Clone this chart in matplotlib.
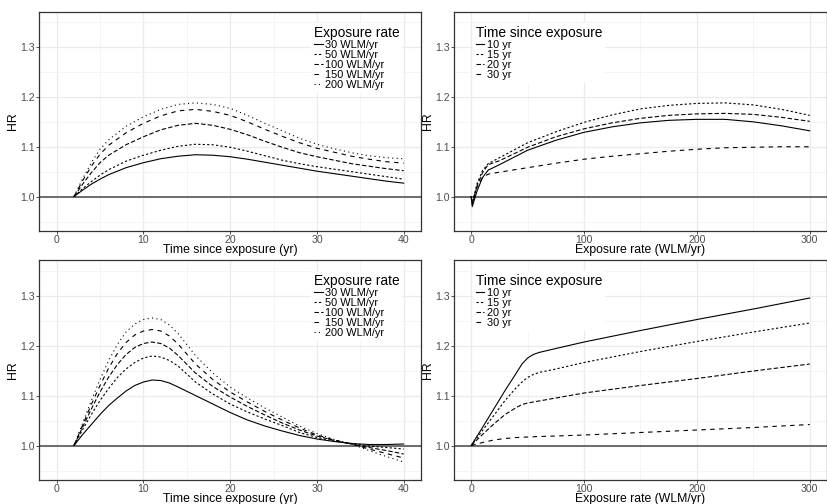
import numpy as np
import matplotlib
matplotlib.use("Agg")
import matplotlib.pyplot as plt
from matplotlib.ticker import MultipleLocator, FormatStrFormatter

plt.rcParams['font.family'] = ['Liberation Sans', 'DejaVu Sans']

# ---- data ----
rate_labels = ['30 WLM/yr', '50 WLM/yr', '100 WLM/yr', '150 WLM/yr', '200 WLM/yr']
time_labels = ['10 yr', '15 yr', '20 yr', '30 yr']

# top left: HR by time since exposure
tl_time = [2, 3, 4, 5, 6, 8, 10, 12, 14, 16, 18, 20, 22, 24, 26, 28, 30, 32, 34, 36, 38, 40]
tl_30 = [1.000, 1.013, 1.025, 1.035, 1.044, 1.058, 1.068, 1.076, 1.081, 1.084, 1.083,
         1.080, 1.075, 1.069, 1.063, 1.057, 1.051, 1.046, 1.041, 1.036, 1.031, 1.027]
tl_50 = [1.000, 1.016, 1.030, 1.043, 1.054, 1.071, 1.083, 1.093, 1.101, 1.105, 1.104,
         1.099, 1.091, 1.082, 1.073, 1.066, 1.060, 1.055, 1.050, 1.045, 1.040, 1.035]
tl_100 = [1.000, 1.025, 1.048, 1.068, 1.083, 1.104, 1.120, 1.134, 1.143, 1.147, 1.143,
          1.135, 1.124, 1.111, 1.099, 1.088, 1.080, 1.073, 1.066, 1.061, 1.056, 1.052]
tl_150 = [1.000, 1.032, 1.061, 1.085, 1.103, 1.128, 1.147, 1.162, 1.172, 1.175, 1.171,
          1.163, 1.150, 1.135, 1.121, 1.108, 1.097, 1.089, 1.081, 1.075, 1.070, 1.067]
tl_200 = [1.000, 1.036, 1.068, 1.095, 1.114, 1.141, 1.160, 1.175, 1.185, 1.188, 1.185,
          1.177, 1.163, 1.147, 1.132, 1.117, 1.105, 1.096, 1.088, 1.082, 1.078, 1.076]

# top right: HR by exposure rate
tr_rate = [0, 1, 5, 10, 15, 25, 50, 75, 100, 125, 150, 175, 200, 225, 250, 275, 300]
tr_10 = [1.000, 0.980, 1.010, 1.038, 1.053, 1.064, 1.093, 1.113, 1.129, 1.140, 1.148,
         1.153, 1.155, 1.155, 1.150, 1.142, 1.132]
tr_15 = [1.000, 0.986, 1.025, 1.052, 1.066, 1.078, 1.108, 1.130, 1.149, 1.164, 1.176,
         1.183, 1.187, 1.188, 1.184, 1.175, 1.163]
tr_20 = [1.000, 0.983, 1.020, 1.048, 1.064, 1.072, 1.099, 1.120, 1.136, 1.148, 1.157,
         1.163, 1.166, 1.167, 1.165, 1.159, 1.151]
tr_30 = [1.000, 0.990, 1.018, 1.038, 1.045, 1.049, 1.058, 1.067, 1.075, 1.081, 1.086,
         1.091, 1.095, 1.098, 1.099, 1.100, 1.100]

# bottom left: HR by time since exposure
bl_time = [2, 3, 4, 5, 6, 7, 8, 9, 10, 11, 12, 13, 14, 16, 18, 20, 22, 24, 26, 28, 30,
           32, 34, 36, 38, 40]
bl_30 = [1.000, 1.022, 1.042, 1.062, 1.080, 1.095, 1.109, 1.120, 1.127, 1.131, 1.130,
         1.125, 1.117, 1.100, 1.083, 1.066, 1.051, 1.039, 1.029, 1.020, 1.013, 1.008,
         1.004, 1.002, 1.002, 1.003]
bl_50 = [1.000, 1.032, 1.062, 1.090, 1.114, 1.136, 1.153, 1.166, 1.175, 1.179, 1.177,
         1.170, 1.159, 1.127, 1.103, 1.083, 1.067, 1.053, 1.040, 1.026, 1.016, 1.009,
         1.004, 0.999, 0.996, 0.993]
bl_100 = [1.000, 1.037, 1.073, 1.107, 1.137, 1.162, 1.182, 1.196, 1.204, 1.207, 1.204,
          1.195, 1.180, 1.145, 1.118, 1.097, 1.078, 1.061, 1.045, 1.031, 1.019, 1.010,
          1.003, 0.996, 0.990, 0.983]
bl_150 = [1.000, 1.041, 1.082, 1.120, 1.155, 1.184, 1.206, 1.221, 1.229, 1.232, 1.229,
          1.219, 1.203, 1.163, 1.132, 1.107, 1.087, 1.068, 1.051, 1.035, 1.021, 1.011,
          1.003, 0.993, 0.984, 0.975]
bl_200 = [1.000, 1.045, 1.090, 1.132, 1.170, 1.202, 1.227, 1.243, 1.252, 1.255, 1.252,
          1.241, 1.224, 1.180, 1.145, 1.117, 1.095, 1.075, 1.057, 1.039, 1.024, 1.012,
          1.003, 0.990, 0.978, 0.967]

# bottom right: HR by exposure rate
br_rate = [0, 10, 20, 30, 40, 45, 50, 55, 60, 75, 100, 150, 200, 250, 300]
br_10 = [1.000, 1.036, 1.073, 1.110, 1.145, 1.163, 1.175, 1.182, 1.186, 1.194, 1.207,
         1.230, 1.252, 1.273, 1.295]
br_15 = [1.000, 1.030, 1.060, 1.090, 1.116, 1.127, 1.136, 1.142, 1.146, 1.153, 1.166,
         1.188, 1.208, 1.227, 1.245]
br_20 = [1.000, 1.022, 1.043, 1.062, 1.076, 1.082, 1.085, 1.087, 1.089, 1.095, 1.105,
         1.120, 1.134, 1.149, 1.163]
br_30 = [1.000, 1.006, 1.011, 1.014, 1.016, 1.0165, 1.017, 1.0175, 1.018, 1.019, 1.021,
         1.026, 1.031, 1.036, 1.042]

# ggplot default linetypes: solid, 22, 42, 44, 13
styles = ['-', (0, (2, 2)), (0, (4, 2)), (0, (4, 4)), (0, (1, 3))]

fig = plt.figure(figsize=(8.27, 5.04), dpi=100)
ax_tl = fig.add_axes([0.0475, 0.5417, 0.4616, 0.4351])
ax_tr = fig.add_axes([0.5493, 0.5417, 0.4503, 0.4351])
ax_bl = fig.add_axes([0.0475, 0.0476, 0.4616, 0.4365])
ax_br = fig.add_axes([0.5493, 0.0476, 0.4503, 0.4365])


def style_axes(ax, xlim, xmajor, xminor, xlabel):
    ax.set_xlim(xlim)
    ax.set_ylim(0.931, 1.371)
    ax.xaxis.set_major_locator(MultipleLocator(xmajor))
    ax.xaxis.set_minor_locator(MultipleLocator(xminor))
    ax.yaxis.set_major_locator(MultipleLocator(0.1))
    ax.yaxis.set_minor_locator(MultipleLocator(0.05))
    ax.yaxis.set_major_formatter(FormatStrFormatter('%.1f'))
    ax.grid(which='major', color='#EBEBEB', lw=0.9)
    ax.grid(which='minor', color='#F2F2F2', lw=0.6)
    ax.set_axisbelow(True)
    ax.tick_params(which='major', length=2, width=0.6, color='#333333',
                   labelsize=7.6, labelcolor='#4D4D4D', pad=1.0)
    ax.tick_params(which='minor', length=0)
    for s in ax.spines.values():
        s.set_color('#333333')
        s.set_linewidth(0.9)
    ax.set_xlabel(xlabel, fontsize=8.8, labelpad=-1.0)
    ax.set_ylabel('HR', fontsize=8.8, labelpad=1)
    ax.axhline(1.0, color='#555555', lw=1.2, zorder=1)


def add_legend(ax, lines, labels, title, x):
    leg = ax.legend(lines, labels, title=title, loc='upper left',
                    bbox_to_anchor=(x, 0.948), frameon=True, framealpha=1,
                    edgecolor='none', fancybox=False, handlelength=0.8,
                    handletextpad=0.25, labelspacing=0.0, borderpad=0.25,
                    borderaxespad=0, fontsize=7.9, title_fontsize=9.9,
                    alignment='left')
    leg.get_frame().set_linewidth(0)


for ax, tt, series in [(ax_tl, tl_time, [tl_30, tl_50, tl_100, tl_150, tl_200]),
                       (ax_bl, bl_time, [bl_30, bl_50, bl_100, bl_150, bl_200])]:
    style_axes(ax, (-2, 42), 10, 5, 'Time since exposure (yr)')
    lines = []
    for ys, ls in zip(series, styles):
        ln, = ax.plot(tt, ys, color='black', lw=0.8, linestyle=ls)
        lines.append(ln)
    add_legend(ax, lines, rate_labels, 'Exposure rate', 0.712)

for ax, rr, series in [(ax_tr, tr_rate, [tr_10, tr_15, tr_20, tr_30]),
                       (ax_br, br_rate, [br_10, br_15, br_20, br_30])]:
    style_axes(ax, (-15, 315), 100, 50, 'Exposure rate (WLM/yr)')
    lines = []
    for ys, ls in zip(series, styles):
        ln, = ax.plot(rr, ys, color='black', lw=0.8, linestyle=ls)
        lines.append(ln)
    add_legend(ax, lines, time_labels, 'Time since exposure', 0.05)

fig.savefig('out.png', dpi=100)
